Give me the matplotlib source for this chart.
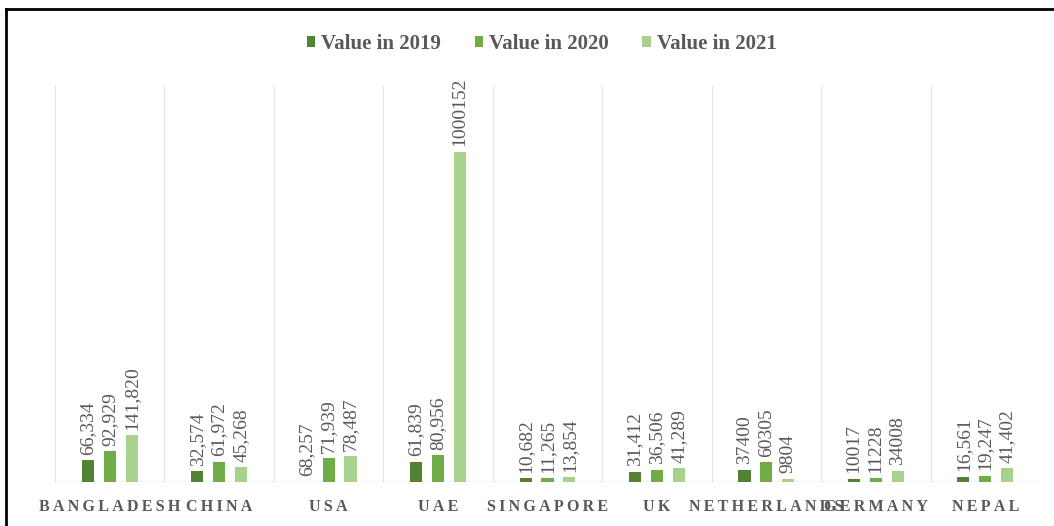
import numpy as np
import matplotlib
matplotlib.use("Agg")
import matplotlib.pyplot as plt
from matplotlib.lines import Line2D

countries = ["BANGLADESH", "CHINA", "USA", "UAE", "SINGAPORE", "UK",
             "NETHERLANDS", "GERMANY", "NEPAL"]
series = ["Value in 2019", "Value in 2020", "Value in 2021"]

# bar heights (USA 2019 is labelled but has no bar in the source chart)
v2019 = [66334, 32574, 0, 61839, 10682, 31412, 37400, 10017, 16561]
v2020 = [92929, 61972, 71939, 80956, 11265, 36506, 60305, 11228, 19247]
v2021 = [141820, 45268, 78487, 1000152, 13854, 41289, 9804, 34008, 41402]

lab2019 = ["66,334", "32,574", "68,257", "61,839", "10,682", "31,412", "37400", "10017", "16,561"]
lab2020 = ["92,929", "61,972", "71,939", "80,956", "11,265", "36,506", "60305", "11228", "19,247"]
lab2021 = ["141,820", "45,268", "78,487", "1000152", "13,854", "41,289", "9804", "34008", "41,402"]

colors = ["#548235", "#70AD47", "#A9D18E"]

plt.rcParams['font.family'] = ['Liberation Serif', 'DejaVu Serif']

W, H = 1054, 526
fig = plt.figure(figsize=(W / 100, H / 100), dpi=100)
ax = fig.add_axes([55 / W, (H - 482) / H, (1040 - 55) / W, (482 - 86) / H])

x = np.arange(len(countries))
width = 0.11
offsets = [-0.2, 0.0, 0.2]
containers = []
for vals, labs, off, col, name in zip([v2019, v2020, v2021],
                                      [lab2019, lab2020, lab2021],
                                      offsets, colors, series):
    bars = ax.bar(x + off, vals, width, color=col, label=name, zorder=3)
    containers.append(bars)
    for xi, v, lab in zip(x + off, vals, labs):
        ax.annotate(lab, (xi, v), xytext=(0, 4), textcoords="offset points",
                    rotation=90, ha="center", va="bottom",
                    fontsize=14, color="#595959")

ax.set_xlim(-0.5, len(countries) - 0.5)
ax.set_ylim(0, 1200000)
for b in np.arange(-0.5, len(countries), 1.0):
    ax.axvline(b, color="#e3e3e3", lw=0.9, zorder=1)
ax.axhline(0, color="#d9d9d9", lw=1.0, zorder=2)

ax.set_yticks([])
ax.set_xticks(x)
ax.set_xticklabels(["\u2009".join(c) for c in countries], fontsize=11.5,
                   fontweight="bold", color="#595959")
ax.tick_params(axis="x", length=0, pad=12)
for s in ax.spines.values():
    s.set_visible(False)

fig.legend(handles=containers, labels=series, loc="center",
           bbox_to_anchor=(0.514, 1 - 44 / H), ncol=3, frameon=False,
           prop={"size": 15, "weight": "bold"}, labelcolor="#595959",
           handlelength=0.4, handleheight=0.4, handletextpad=0.3,
           columnspacing=1.6)

# frame lines (top and left visible in the source crop)
fig.add_artist(Line2D([6 / W, 1], [1 - 9 / H, 1 - 9 / H], color="black", lw=2,
                      transform=fig.transFigure))
fig.add_artist(Line2D([6 / W, 6 / W], [0, 1 - 9 / H], color="black", lw=2,
                      transform=fig.transFigure))

fig.savefig("out.png", dpi=100)
